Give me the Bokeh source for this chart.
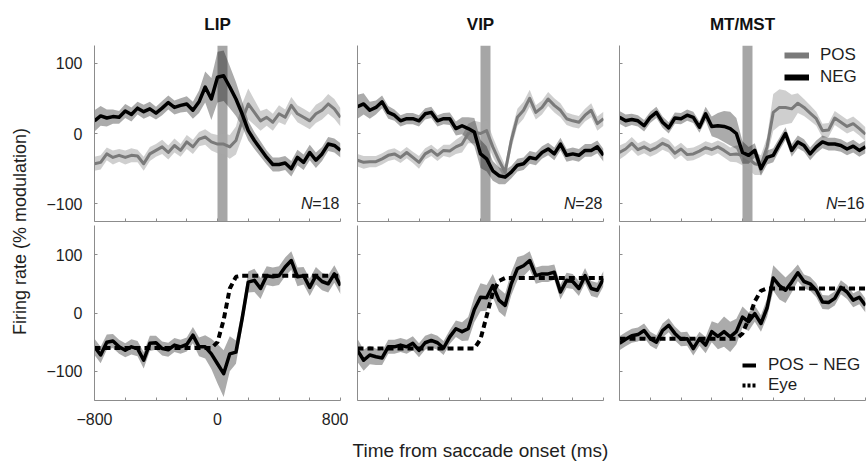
import numpy as np
from bokeh.plotting import figure
from bokeh.layouts import row, column
from bokeh.models import (Range1d, FixedTicker, BoxAnnotation, Label, Legend,
                          LegendItem, GlobalInlineStyleSheet)
from bokeh.embed import file_html
from bokeh.resources import INLINE

# ---------------- data ----------------
TIME = [-800, -760, -720, -680, -640, -600, -560, -520, -480, -440, -400,
        -360, -320, -280, -240, -200, -160, -120, -80, -40, 0,
        40, 80, 120, 160, 200, 240, 280, 320, 360, 400,
        440, 480, 520, 560, 600, 640, 680, 720, 760, 800]

AREAS = ["LIP", "VIP", "MT/MST"]
N_UNITS = [18, 28, 16]
SACCADE_WINDOW = [0, 65]

POS_LIP = [-43, -41, -29, -34, -31, -34, -31, -32, -43, -29, -24, -19, -27, -17, -24, -12, -19, -8, -5, -12, -15,
           -15, -19, -10, 18, 42, 30, 18, 23, 16, 28, 23, 40, 28, 23, 18, 28, 33, 42, 35, 23]
NEG_LIP = [18, 25, 22, 24, 23, 32, 27, 36, 31, 35, 29, 36, 44, 37, 40, 42, 33, 45, 66, 49, 80,
           82, 66, 49, 28, 4, -10, -22, -34, -44, -44, -42, -50, -34, -41, -27, -38, -29, -15, -17, -24]
POS_VIP = [-38, -41, -40, -40, -36, -31, -29, -34, -27, -34, -41, -29, -24, -31, -24, -25, -19, -15, 0, 2, 0,
           4, -19, -38, -55, -10, 23, 33, 50, 30, 37, 49, 40, 33, 21, 18, 16, 26, 33, 14, 21]
NEG_VIP = [38, 42, 33, 37, 45, 30, 26, 18, 21, 21, 18, 28, 30, 18, 21, 21, 7, 11, 7, 2, -29,
           -36, -53, -60, -62, -55, -45, -43, -34, -36, -27, -22, -29, -15, -31, -29, -31, -24, -24, -19, -31]
POS_MT = [-27, -22, -14, -23, -19, -24, -20, -14, -18, -28, -22, -30, -29, -25, -20, -23, -19, -24, -30, -29, -31,
          -36, -43, -45, -19, 30, 37, 37, 35, 43, 37, 29, 21, 4, 5, 22, 16, 10, 14, 7, -1]
NEG_MT = [23, 18, 20, 18, 11, 23, 30, 16, 8, 22, 21, 26, 23, 9, 28, 10, 11, 10, 7, 0, -27,
          -31, -24, -50, -34, -31, -15, 0, -24, -12, -17, -29, -19, -12, -15, -15, -17, -22, -18, -24, -19]

POS_LIP_SEM = [10, 10, 9, 10, 9, 10, 10, 9, 10, 10, 9, 10, 10, 10, 9, 10, 10, 10, 11, 12, 13,
               15, 17, 20, 24, 22, 18, 14, 12, 12, 12, 11, 12, 12, 12, 12, 13, 13, 14, 14, 13]
NEG_LIP_SEM = [15, 14, 12, 10, 9, 10, 10, 9, 10, 10, 9, 10, 10, 10, 10, 11, 12, 16, 22, 30, 36,
               36, 30, 24, 18, 14, 12, 11, 10, 10, 10, 10, 11, 11, 11, 11, 11, 10, 10, 10, 10]
POS_VIP_SEM = [9, 9, 8, 8, 8, 8, 8, 8, 8, 8, 9, 8, 8, 8, 8, 9, 10, 12, 14, 16, 16,
               15, 14, 12, 10, 12, 12, 12, 12, 10, 10, 10, 10, 10, 9, 9, 9, 9, 10, 10, 10]
NEG_VIP_SEM = [17, 15, 12, 10, 9, 9, 8, 8, 8, 8, 8, 8, 8, 8, 8, 9, 10, 12, 16, 20, 20,
               18, 14, 12, 10, 9, 9, 9, 9, 9, 9, 9, 9, 9, 9, 9, 9, 9, 9, 9, 9]
POS_MT_SEM = [10, 9, 9, 9, 9, 9, 9, 9, 9, 9, 9, 9, 9, 9, 9, 9, 9, 10, 10, 12, 14,
              16, 16, 14, 14, 26, 26, 24, 20, 14, 12, 11, 10, 10, 10, 10, 10, 10, 10, 10, 10]
NEG_MT_SEM = [9, 9, 8, 8, 8, 8, 8, 8, 8, 8, 8, 8, 8, 8, 10, 14, 18, 22, 24, 22, 16,
              12, 10, 10, 10, 10, 9, 9, 9, 9, 9, 9, 9, 9, 9, 9, 9, 9, 9, 9, 9]

DIFF_LIP = [-58, -72, -50, -48, -58, -64, -58, -61, -81, -52, -51, -61, -63, -55, -58, -54, -38, -58, -58, -70, -87,
            -104, -70, -67, -10, 53, 56, 42, 64, 62, 64, 79, 90, 62, 64, 44, 64, 54, 50, 67, 47]
DIFF_VIP = [-64, -81, -72, -75, -77, -58, -58, -55, -58, -52, -64, -51, -47, -51, -60, -41, -27, -32, -27, 6, 27,
            26, 47, 22, 13, 50, 76, 81, 90, 64, 67, 67, 70, 36, 56, 54, 42, 64, 42, 39, 59]
DIFF_MT = [-52, -45, -39, -37, -30, -44, -50, -30, -21, -35, -45, -44, -61, -44, -55, -32, -40, -32, -41, -32, -7,
           -15, -1, -18, 9, 60, 47, 39, 53, 69, 54, 50, 39, 19, 18, 25, 44, 36, 22, 27, 13]
DIFF_LIP_SEM = [14, 14, 13, 12, 12, 12, 13, 13, 14, 13, 12, 12, 12, 12, 12, 12, 14, 16, 20, 26, 34,
                40, 30, 20, 16, 18, 20, 18, 16, 16, 16, 16, 16, 16, 15, 15, 15, 15, 15, 15, 15]
DIFF_VIP_SEM = [20, 18, 16, 14, 12, 12, 12, 12, 12, 12, 12, 12, 12, 12, 12, 12, 14, 16, 20, 22, 24,
                22, 20, 20, 20, 20, 20, 18, 16, 14, 14, 14, 13, 13, 13, 13, 13, 13, 13, 13, 13]
DIFF_MT_SEM = [12, 12, 12, 12, 12, 12, 12, 12, 12, 12, 12, 12, 12, 12, 14, 18, 22, 26, 26, 22, 18,
               16, 14, 14, 16, 22, 24, 22, 18, 14, 12, 12, 12, 12, 12, 12, 12, 12, 12, 12, 12]

EYE_LIP = [-60, -60, -60, -60, -60, -60, -60, -60, -60, -60, -60, -60, -60, -60, -60, -60, -60, -60, -60, -60, -50,
           -12, 42, 62, 64, 64, 64, 64, 64, 64, 64, 64, 64, 64, 64, 64, 64, 64, 64, 64, 64]
EYE_VIP = [-61, -61, -61, -61, -61, -61, -61, -61, -61, -61, -61, -61, -61, -61, -61, -61, -61, -61, -61, -61, -45,
           -5, 35, 55, 60, 60, 60, 60, 60, 60, 60, 60, 60, 60, 60, 60, 60, 60, 60, 60, 60]
EYE_MT = [-44, -44, -44, -44, -44, -44, -44, -44, -44, -44, -44, -44, -44, -44, -44, -44, -44, -44, -44, -44, -35,
          -10, 20, 38, 42, 42, 42, 42, 42, 42, 42, 42, 42, 42, 42, 42, 42, 42, 42, 42, 42]

X_TICKS = [-800, -600, -400, -200, 0, 200, 400, 600, 800]
X_TICK_LABELS = {-800: "\u2212800", 0: "0", 800: "800"}
Y_TICKS = [-100, 0, 100]
Y_TICK_LABELS = {-100: "\u2212100", 0: "0", 100: "100"}
TOP_YLIM = [-125, 125]
BOT_YLIM = [-150, 150]
XLIM = [-800, 800]
X_LABEL = "Time from saccade onset (ms)"
Y_LABEL = "Firing rate (% modulation)"

# ---------------- style ----------------
FONT = "Liberation Sans"
AX = "#8c8c8c"
TXT = "#1e1e1e"
POS_COLOR = "#7a7a7a"
NAN = float("nan")

POS = [POS_LIP, POS_VIP, POS_MT]
NEG = [NEG_LIP, NEG_VIP, NEG_MT]
POS_SEM = [POS_LIP_SEM, POS_VIP_SEM, POS_MT_SEM]
NEG_SEM = [NEG_LIP_SEM, NEG_VIP_SEM, NEG_MT_SEM]
DIFF = [DIFF_LIP, DIFF_VIP, DIFF_MT]
DIFF_SEM = [DIFF_LIP_SEM, DIFF_VIP_SEM, DIFF_MT_SEM]
EYE = [EYE_LIP, EYE_VIP, EYE_MT]

LEFT_BORDERS = [54, 9, 8]
RIGHT_BORDERS = [8, 8, 1]


def style_axes(p, show_x, show_y):
    for ax, show, labels, ticks in ((p.xaxis[0], show_x, X_TICK_LABELS, X_TICKS),
                                    (p.yaxis[0], show_y, Y_TICK_LABELS, Y_TICKS)):
        ax.ticker = FixedTicker(ticks=ticks)
        ax.axis_line_color = AX
        ax.major_tick_line_color = AX
        ax.minor_tick_line_color = None
        ax.major_tick_in = 3
        ax.major_tick_out = 0
        ax.major_label_text_font = FONT
        ax.major_label_text_color = TXT
        if show:
            ax.major_label_overrides = {t: labels.get(t, "") for t in ticks}
            ax.major_label_text_font_size = "16px"
        else:
            ax.major_label_overrides = {t: "" for t in ticks}
            ax.major_label_text_font_size = "0px"
            ax.major_label_standoff = 0
    p.yaxis[0].major_label_standoff = 12 if show_y else 0
    p.xaxis[0].major_label_standoff = 12 if show_x else 0


def base_fig(col, ylim, frame_h, top_b, bot_b, title=None):
    p = figure(frame_width=246, frame_height=frame_h,
               x_range=Range1d(*XLIM), y_range=Range1d(*ylim),
               output_backend="svg", toolbar_location=None,
               min_border_left=LEFT_BORDERS[col], min_border_right=RIGHT_BORDERS[col],
               min_border_top=top_b, min_border_bottom=bot_b,
               title=title)
    p.outline_line_color = None
    p.xgrid.visible = False
    p.ygrid.visible = False
    p.background_fill_color = "white"
    p.border_fill_color = "white"
    if title:
        p.title.text_font = FONT
        p.title.text_font_size = "17px"
        p.title.text_font_style = "bold"
        p.title.text_color = "#111111"
        p.title.align = "center"
        p.title.standoff = 24
    return p


tops, bots = [], []
t = np.array(TIME, dtype=float)
for i, area in enumerate(AREAS):
    # ---- top panel: POS and NEG ----
    p = base_fig(i, TOP_YLIM, 176, 45, 2, title=area)
    style_axes(p, False, i == 0)
    p.add_layout(BoxAnnotation(left=SACCADE_WINDOW[0], right=SACCADE_WINDOW[1],
                               fill_color="#a6a6a6", fill_alpha=1.0, line_color=None,
                               level="underlay"))
    pos = np.array(POS[i], float); ps = np.array(POS_SEM[i], float)
    neg = np.array(NEG[i], float); ns = np.array(NEG_SEM[i], float)
    p.varea(x=t, y1=pos - ps, y2=pos + ps, fill_color="#a8a8a8", fill_alpha=0.55)
    p.varea(x=t, y1=neg - ns, y2=neg + ns, fill_color="#000000", fill_alpha=0.33)
    p.line(t, pos, line_color=POS_COLOR, line_width=3, line_join="round")
    p.line(t, neg, line_color="black", line_width=3.5, line_join="round")
    p.add_layout(Label(x=XLIM[1], y=Y_TICKS[0], text="=%d" % N_UNITS[i], text_align="right",
                       text_baseline="middle", x_offset=-1, text_font=FONT,
                       text_font_size="16px", text_color=TXT))
    p.add_layout(Label(x=XLIM[1], y=Y_TICKS[0], text="N", text_align="right",
                       text_baseline="middle", x_offset=-28, text_font=FONT,
                       text_font_size="16px", text_font_style="italic", text_color=TXT))
    if i == 2:
        lp = p.line(x=[NAN], y=[NAN], line_color=POS_COLOR, line_width=6)
        ln = p.line(x=[NAN], y=[NAN], line_color="black", line_width=6)
        leg = Legend(items=[LegendItem(label="POS", renderers=[lp]),
                            LegendItem(label="NEG", renderers=[ln])],
                     location=(165, 134), padding=0, margin=0, spacing=2,
                     glyph_width=25, glyph_height=20, label_height=20, label_standoff=11,
                     background_fill_alpha=0, border_line_color=None,
                     label_text_font=FONT, label_text_font_size="17px",
                     label_text_color=TXT)
        p.add_layout(leg)
    tops.append(p)

    # ---- bottom panel: POS - NEG and eye ----
    q = base_fig(i, BOT_YLIM, 175, 2, 75)
    style_axes(q, i == 0, i == 0)
    d = np.array(DIFF[i], float); ds = np.array(DIFF_SEM[i], float)
    q.varea(x=t, y1=d - ds, y2=d + ds, fill_color="#000000", fill_alpha=0.33)
    q.line(t, EYE[i], line_color="black", line_width=4, line_dash="6 4")
    q.line(t, d, line_color="black", line_width=3.5, line_join="round")
    if i == 1:
        q.xaxis[0].axis_label = X_LABEL
        q.xaxis[0].axis_label_text_font = FONT
        q.xaxis[0].axis_label_text_font_size = "19px"
        q.xaxis[0].axis_label_text_font_style = "normal"
        q.xaxis[0].axis_label_text_color = TXT
        q.xaxis[0].axis_label_standoff = 39
    if i == 2:
        ld = q.line(x=[NAN], y=[NAN], line_color="black", line_width=4)
        le = q.line(x=[NAN], y=[NAN], line_color="black", line_width=4, line_dash="3 2")
        leg2 = Legend(items=[LegendItem(label="POS \u2212 NEG", renderers=[ld]),
                             LegendItem(label="Eye", renderers=[le])],
                      location=(123, 5), padding=0, margin=0, spacing=0,
                      glyph_width=14, glyph_height=18, label_height=18, label_standoff=12,
                      background_fill_alpha=0, border_line_color=None,
                      label_text_font=FONT, label_text_font_size="17px",
                      label_text_color=TXT)
        q.add_layout(leg2)
    bots.append(q)

lab = figure(width=40, height=475, x_range=Range1d(0, 1), y_range=Range1d(0, 1),
             x_axis_type=None, y_axis_type=None, min_border=0,
             output_backend="svg", toolbar_location=None)
lab.outline_line_color = None
lab.xgrid.visible = False
lab.ygrid.visible = False
lab.add_layout(Label(x=19, y=244, x_units="screen", y_units="screen", text=Y_LABEL,
                     angle=90, angle_units="deg", text_align="center", text_baseline="middle",
                     text_font=FONT, text_font_size="18px", text_color=TXT))

layout = row(lab, column(row(*tops), row(*bots)))
layout.stylesheets = [GlobalInlineStyleSheet(
    css="html, body { margin: 0; padding: 0; overflow: hidden; }")]

p = layout
open("out.html", "w").write(file_html(p, INLINE))
